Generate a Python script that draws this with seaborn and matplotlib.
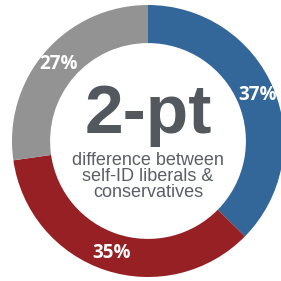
import numpy as np
import seaborn as sns
import matplotlib.pyplot as plt

# Share of each group (clockwise from top)
groups = ["Liberal", "Conservative", "Moderate"]
shares = [37, 35, 27]
labels = ["37%", "35%", "27%"]
colors = ["#336699", "#962023", "#939393"]

sns.set_theme(style="white")
plt.rcParams['font.family'] = ['Liberation Sans', 'DejaVu Sans']

fig = plt.figure(figsize=(2.81, 2.81), dpi=100)
ax = fig.add_axes([0, 0, 1, 1])

wedges, _ = ax.pie(shares, colors=colors, startangle=90, counterclock=False,
                   radius=1.0, wedgeprops=dict(width=0.28, linewidth=0))

# percent labels in the ring
for w, lab in zip(wedges, labels):
    ang = np.deg2rad((w.theta1 + w.theta2) / 2)
    r = 0.87
    ax.text(r * np.cos(ang), r * np.sin(ang), lab, color="white",
            fontsize=13.5, fontweight="bold", ha="center", va="center",
            family=['Open Sans', 'DejaVu Sans'])

ax.text(0.0, 0.19, "2-pt", color="#53575e", fontsize=50, fontweight="bold",
        ha="center", va="center")
ax.text(0.0, -0.26, "difference between\nself-ID liberals &\nconservatives",
        color="#5a5e65", fontsize=13, ha="center", va="center", linespacing=0.95)

R = 136.0
ax.set_xlim(-148 / R, (281 - 148) / R)
ax.set_ylim(-(281 - 141) / R, 141 / R)
ax.set_aspect("auto")
ax.axis("off")

fig.savefig("out.png", dpi=100, facecolor="white")
